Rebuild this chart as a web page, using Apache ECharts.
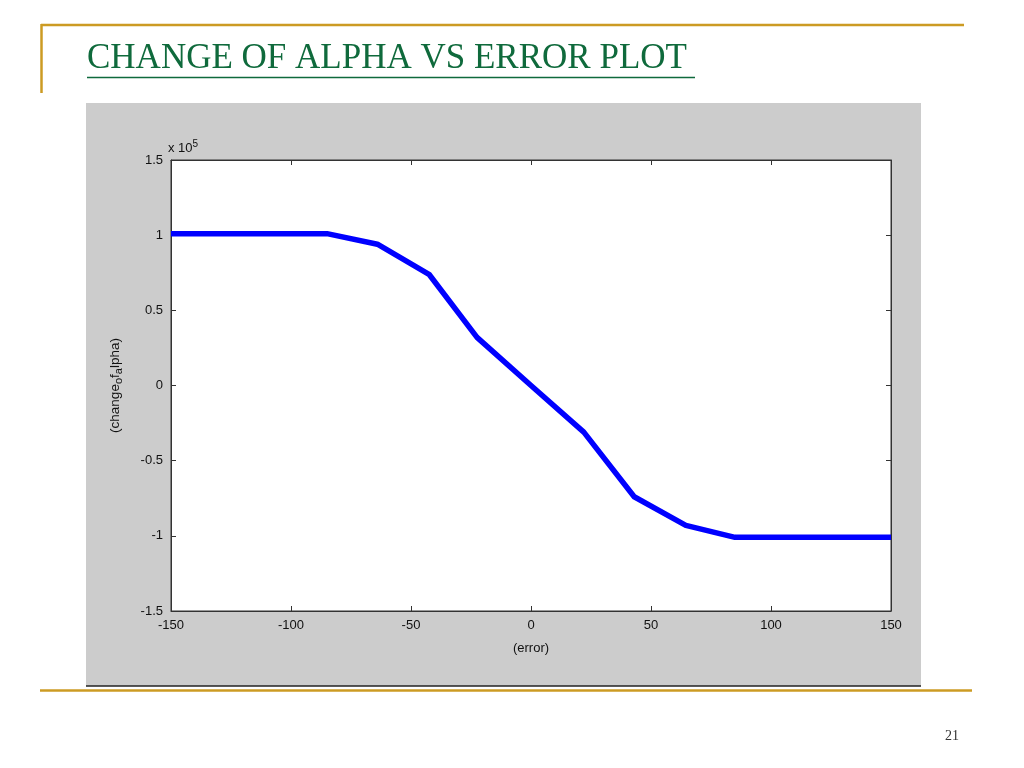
<!DOCTYPE html>
<html>
<head>
<meta charset="utf-8">
<script src="https://cdn.jsdelivr.net/npm/echarts@6/dist/echarts.min.js"></script>
<style>html,body{margin:0;padding:0;background:#fff;}#c{width:1024px;height:768px;}</style>
</head>
<body>
<div id="c"></div>
<script>
// Data (error vs change of alpha, values in absolute units; axis shows x10^5)
const errorValues = [-150, -85, -64, -42.5, -22.5, 0, 22, 43, 64.5, 85, 150];
const alphaChange = [101000, 101000, 94000, 74000, 32000, 0, -31000, -74000, -93000, -101000, -101000];
const xTicks = [-150, -100, -50, 0, 50, 100, 150];
const yTicks = [-150000, -100000, -50000, 0, 50000, 100000, 150000];

const titleText = 'CHANGE OF ALPHA VS ERROR PLOT';
const pageNumber = '21';

const chart = echarts.init(document.getElementById('c'), null, {renderer: 'canvas'});
const gold = '#cc9b23';
const sans = 'Liberation Sans, Arial, sans-serif';
const serif = 'Liberation Serif, Times New Roman, serif';

const pts = errorValues.map((x, i) => [x, alphaChange[i]]);

const option = {
  backgroundColor: '#ffffff',
  animation: false,
  graphic: [
    {type: 'rect', z: -10, shape: {x: 86, y: 103, width: 835, height: 583}, style: {fill: '#cccccc'}},
    {type: 'line', z: 1, shape: {x1: 86, y1: 686, x2: 921, y2: 686}, style: {stroke: '#222', lineWidth: 1.5}},
    {type: 'line', shape: {x1: 40, y1: 690.5, x2: 972, y2: 690.5}, style: {stroke: gold, lineWidth: 2.5}},
    {type: 'line', shape: {x1: 41, y1: 25, x2: 964, y2: 25}, style: {stroke: gold, lineWidth: 2.5}},
    {type: 'line', shape: {x1: 41.5, y1: 24, x2: 41.5, y2: 93}, style: {stroke: gold, lineWidth: 2.5}},
    {type: 'text', left: 87, top: 41, style: {text: titleText, font: '35px ' + serif, fill: '#0f6a3c'}},
    {type: 'line', shape: {x1: 87, y1: 77.5, x2: 695, y2: 77.5}, style: {stroke: '#0f6a3c', lineWidth: 1.5}},
    {type: 'text', left: 945, top: 729, style: {text: pageNumber, font: '14px ' + serif, fill: '#333'}},
    {type: 'text', left: 168, top: 139, style: {
      text: 'x 10{sup|5}', font: '13px ' + sans, fill: '#111',
      rich: {sup: {fontSize: 10, verticalAlign: 'top', padding: [0, 0, 9, 0], fontFamily: sans, fill: '#111'}}
    }}
  ],
  grid: {left: 171, right: 133, top: 160, bottom: 157, show: true, backgroundColor: '#ffffff', borderColor: '#333', borderWidth: 1},
  xAxis: [{
    type: 'value', min: -150, max: 150, interval: 50, position: 'bottom',
    name: '(error)', nameLocation: 'middle', nameGap: 31,
    nameTextStyle: {fontFamily: sans, fontSize: 13, color: '#111'},
    axisLine: {show: true, onZero: false, lineStyle: {color: '#333', width: 1}},
    axisTick: {show: true, inside: true, length: 5, lineStyle: {color: '#333'}},
    axisLabel: {fontFamily: sans, fontSize: 13, color: '#111', margin: 8},
    splitLine: {show: false}
  }, {
    type: 'value', min: -150, max: 150, interval: 50, position: 'top',
    axisLine: {show: true, onZero: false, lineStyle: {color: '#333'}},
    axisTick: {show: true, inside: true, length: 5, lineStyle: {color: '#333'}},
    axisLabel: {show: false}, splitLine: {show: false}
  }],
  yAxis: [{
    type: 'value', min: -150000, max: 150000, interval: 50000, position: 'left',
    name: '(change{sub|o}f{sub|a}lpha)', nameLocation: 'middle', nameGap: 47, nameRotate: 90,
    nameTextStyle: {fontFamily: sans, fontSize: 13.5, color: '#111',
      rich: {sub: {fontSize: 11, fontFamily: sans, color: '#111', verticalAlign: 'bottom', padding: [7, 0, 0, 0]}}},
    axisLine: {show: true, onZero: false, lineStyle: {color: '#333', width: 1}},
    axisTick: {show: true, inside: true, length: 5, lineStyle: {color: '#333'}},
    axisLabel: {fontFamily: sans, fontSize: 13, color: '#111', margin: 8,
      formatter: v => String(Math.round(v / 10000) / 10)},
    splitLine: {show: false}
  }, {
    type: 'value', min: -150000, max: 150000, interval: 50000, position: 'right',
    axisLine: {show: true, onZero: false, lineStyle: {color: '#333'}},
    axisTick: {show: true, inside: true, length: 5, lineStyle: {color: '#333'}},
    axisLabel: {show: false}, splitLine: {show: false}
  }],
  series: [{
    type: 'line', data: pts, xAxisIndex: 0, yAxisIndex: 0,
    symbol: 'none', smooth: false,
    lineStyle: {color: '#0000ff', width: 5.5, join: 'round'}
  }]
};
chart.setOption(option);
</script>
</body>
</html>
